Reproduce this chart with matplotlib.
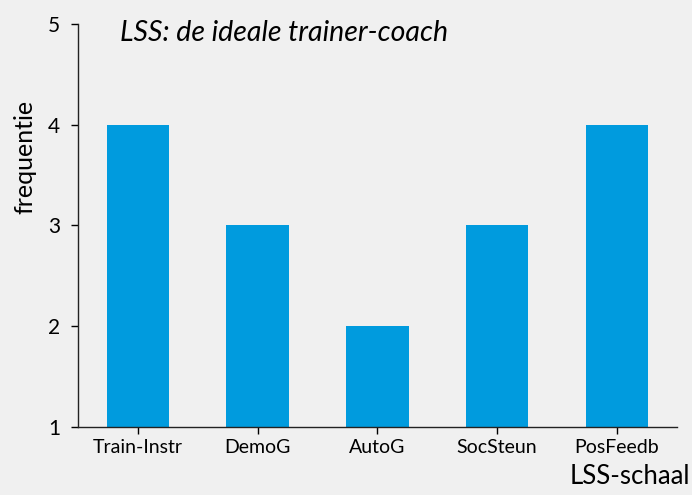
import numpy as np
import matplotlib
matplotlib.use('Agg')
import matplotlib.pyplot as plt

plt.rcParams['font.family'] = ['Lato', 'DejaVu Sans']

schalen = ['Train-Instr', 'DemoG', 'AutoG', 'SocSteun', 'PosFeedb']
frequentie = [4, 3, 2, 3, 4]
y_ticks = [1, 2, 3, 4, 5]

bg = '#f0f0f0'
blauw = '#009bde'

fig = plt.figure(figsize=(6.92, 4.95), dpi=100, facecolor=bg)
ax = fig.add_axes([0.1127, 0.1374, 0.978 - 0.1127, 0.9515 - 0.1374])
ax.set_facecolor(bg)

x = np.arange(len(schalen))
ax.bar(x, np.array(frequentie) - 1, bottom=1, width=0.52, color=blauw)

ax.set_xlim(-0.5, 4.5)
ax.set_ylim(1, 5)
ax.set_yticks(y_ticks)
ax.set_xticks(x)
ax.set_xticklabels(schalen, fontsize=14)
ax.tick_params(axis='y', labelsize=15, length=5, width=1, pad=8)
ax.tick_params(axis='x', length=5, width=1, pad=4)

for s in ['top', 'right']:
    ax.spines[s].set_visible(False)
for s in ['left', 'bottom']:
    ax.spines[s].set_linewidth(1)
    ax.spines[s].set_color('#222222')

ax.set_ylabel('frequentie', fontsize=18)
ax.yaxis.set_label_coords(-0.07, 0.67)
ax.text(0.07, 1.01, 'LSS: de ideale trainer-coach', transform=ax.transAxes,
        fontsize=20.5, fontstyle='italic', va='top', ha='left')
fig.text(0.998, 0.012, 'LSS-schaal', fontsize=18.5, ha='right', va='bottom')

fig.savefig('out.png', dpi=100, facecolor=bg)
